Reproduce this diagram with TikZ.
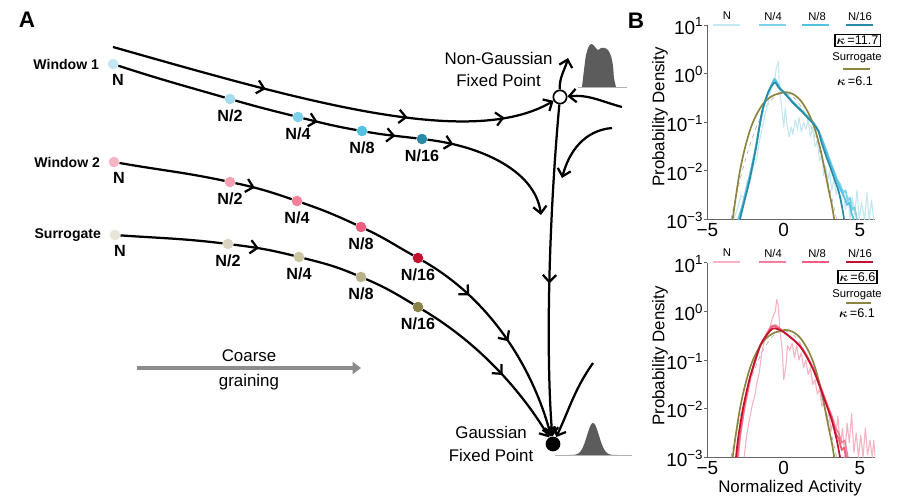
\documentclass[tikz,border=0pt]{standalone}
\usepackage{amsmath}
\usepackage{fontspec}
\setmainfont{Liberation Sans}
\usepackage{tikz}
\usetikzlibrary{positioning, arrows.meta, decorations.markings}

\definecolor{bluN}{HTML}{C4E8F3}
\definecolor{bluNii}{HTML}{A5DCEF}
\definecolor{bluNiv}{HTML}{7FD0EA}
\definecolor{bluNviii}{HTML}{52C1E2}
\definecolor{bluNxvi}{HTML}{2A8AA6}
\definecolor{rosN}{HTML}{F7B5C4}
\definecolor{rosNii}{HTML}{F7A0B4}
\definecolor{rosNiv}{HTML}{F57E9A}
\definecolor{rosNviii}{HTML}{F25C7D}
\definecolor{rosNxvi}{HTML}{C4102F}
\definecolor{surN}{HTML}{E8E5D8}
\definecolor{surNii}{HTML}{D9D5C1}
\definecolor{surNiv}{HTML}{CBC5A4}
\definecolor{surNviii}{HTML}{B8B18A}
\definecolor{surNxvi}{HTML}{8A8246}
\definecolor{surrogatecurve}{HTML}{8C8540}
\definecolor{histfill}{HTML}{5C5C5C}
\definecolor{coarsegray}{HTML}{8C8C8C}

\begin{document}
\begin{tikzpicture}[x=0.025cm, y=-0.025cm,
        dot/.style={circle, inner sep=0pt, minimum size=7.5pt, fill=#1},
        gfpdot/.style={circle, inner sep=0pt, minimum size=10.5pt, fill=black},
        ngfpdot/.style={circle, inner sep=0pt, minimum size=9.5pt, draw=black, line width=1.2pt, fill=white},
        sizelabel/.style={font=\fontsize{11.5}{13}\selectfont\bfseries, inner sep=2pt},
        winlabel/.style={font=\fontsize{10}{12}\selectfont\bfseries},
        panellabel/.style={font=\fontsize{16}{18}\selectfont\bfseries},
        fplabel/.style={font=\fontsize{12}{15.8}\selectfont, align=center, text=black},
        flow/.style={line width=1.6pt},
        flowend/.style={flow, -{Straight Barb[length=5pt, width=9.5pt]}},
        midarrow/.style={postaction={decorate, decoration={markings, mark=at position #1 with {\arrow{Straight Barb[length=5pt, width=9.5pt]}}}}},
        coarse/.style={line width=2.5pt, coarsegray, -{Triangle[length=6pt, width=8.5pt]}},
        histbase/.style={line width=0.6pt, gray!60},
        axisline/.style={line width=0.6pt, gray!80!black},
        ytick/.style={font=\fontsize{13.5}{15}\selectfont, anchor=base east, inner sep=0pt, xshift=-2.8pt, yshift=-6.6pt},
        xtick/.style={font=\fontsize{13.5}{15}\selectfont, anchor=north, inner sep=2pt, yshift=-0.5pt},
        axlabel/.style={font=\fontsize{12}{14}\selectfont},
        legtext/.style={font=\fontsize{8}{9}\selectfont, inner sep=1pt},
        legline/.style={line width=2pt},
        kbox/.style={draw=black, line width=0.9pt, inner sep=1.2pt, font=\fontsize{9}{10}\selectfont},
        ktext/.style={font=\fontsize{9}{10}\selectfont, inner sep=1pt},
        curve/.style={line width=1.2pt, line join=round},
        noisy/.style={line width=0.8pt, line join=round},
        refgauss/.style={line width=0.5pt, gray!60, dashed},
]
        \useasboundingbox (0,0) rectangle (897,500);

        % panel A
        \node[panellabel] (pana) at (27,20) {A};
        \node[panellabel] (panb) at (636,21) {B};

        \node[dot=bluN] (w1n) at (113,64) {};
        \node[dot=bluNii] (w1n2) at (230,99) {};
        \node[dot=bluNiv] (w1n4) at (298,117) {};
        \node[dot=bluNviii] (w1n8) at (362,131) {};
        \node[dot=bluNxvi] (w1n16) at (422,139) {};
        \node[winlabel, left=2.5pt of w1n] (w1lab) {Window 1};
        \node[sizelabel, below=1.3pt of w1n, xshift=3.5pt] (w1nlab) {N};
        \node[sizelabel, below=1.3pt of w1n2] (w1n2lab) {N/2};
        \node[sizelabel, below=1.3pt of w1n4] (w1n4lab) {N/4};
        \node[sizelabel, below=1.3pt of w1n8] (w1n8lab) {N/8};
        \node[sizelabel, below=1.3pt of w1n16] (w1n16lab) {N/16};

        \node[dot=rosN] (w2n) at (114,162) {};
        \node[dot=rosNii] (w2n2) at (230,182) {};
        \node[dot=rosNiv] (w2n4) at (297,201) {};
        \node[dot=rosNviii] (w2n8) at (361,227) {};
        \node[dot=rosNxvi] (w2n16) at (418,258) {};
        \node[winlabel, left=2.5pt of w2n] (w2lab) {Window 2};
        \node[sizelabel, below=1.3pt of w2n, xshift=3.5pt] (w2nlab) {N};
        \node[sizelabel, below=1.3pt of w2n2] (w2n2lab) {N/2};
        \node[sizelabel, below=1.3pt of w2n4] (w2n4lab) {N/4};
        \node[sizelabel, below=1.3pt of w2n8] (w2n8lab) {N/8};
        \node[sizelabel, below=1.3pt of w2n16] (w2n16lab) {N/16};

        \node[dot=surN] (sn) at (115,235) {};
        \node[dot=surNii] (sn2) at (228,244) {};
        \node[dot=surNiv] (sn4) at (299,257) {};
        \node[dot=surNviii] (sn8) at (361,277) {};
        \node[dot=surNxvi] (sn16) at (418,307) {};
        \node[winlabel, left=2.5pt of sn] (slab) {Surrogate};
        \node[sizelabel, below=1.3pt of sn, xshift=3.5pt] (snlab) {N};
        \node[sizelabel, below=1.3pt of sn2] (sn2lab) {N/2};
        \node[sizelabel, below=1.3pt of sn4] (sn4lab) {N/4};
        \node[sizelabel, below=1.3pt of sn8] (sn8lab) {N/8};
        \node[sizelabel, below=1.3pt of sn16] (sn16lab) {N/16};

        \node[ngfpdot] (ngfp) at (560,97) {};
        \node[gfpdot] (gfp) at (553,444) {};
        \node[fplabel, above left=0pt and -2pt of ngfp] (ngfplab) {Non-Gaussian\\Fixed Point};
        \node[fplabel, left=5pt of gfp] (gfplab) {Gaussian\\Fixed Point};

        \coordinate (w1top) at (113,47);
        \coordinate (w1end) at (541,215);
        \coordinate (rin) at (622,107);
        \coordinate (rcurve) at (612,128);
        \coordinate (rcurveend) at (562,178);
        \coordinate (upend) at (568,58);
        \coordinate (rgin) at (593,363);

        \draw[flowend, midarrow=0.35, midarrow=0.67, midarrow=0.885] (w1top) .. controls (300,100) and (470,150) .. (ngfp);
        \draw[flow] (w1n) to[out=-18, in=164] (w1n2);
        \draw[flow] (w1n2) to[out=-16, in=166] (w1n4);
        \draw[flow, midarrow=0.27] (w1n4) to[out=-14, in=170] (w1n8);
        \draw[flow, midarrow=0.57] (w1n8) to[out=-10, in=173] (w1n16);
        \draw[flowend, midarrow=0.18] (w1n16) .. controls (480,146) and (535,170) .. (w1end);

        \draw[flow] (w2n) to[out=-10, in=168] (w2n2);
        \draw[flow, midarrow=0.34] (w2n2) to[out=-12, in=161] (w2n4);
        \draw[flow] (w2n4) to[out=-19, in=155] (w2n8);
        \draw[flow] (w2n8) to[out=-25, in=151] (w2n16);
        \draw[flowend, midarrow=0.26, midarrow=0.53] (w2n16) .. controls (500,305) and (537,382) .. (gfp);

        \draw[flow] (sn) to[out=-4, in=173] (sn2);
        \draw[flow, midarrow=0.42] (sn2) to[out=-7, in=166] (sn4);
        \draw[flow] (sn4) to[out=-14, in=157] (sn8);
        \draw[flow] (sn8) to[out=-23, in=149] (sn16);
        \draw[flowend, midarrow=0.57] (sn16) .. controls (490,350) and (530,405) .. (gfp);

        \draw[flowend, midarrow=0.54] (ngfp) .. controls (548,230) and (546,360) .. (gfp);
        \draw[flowend] (rin) to[out=165, in=5] (ngfp);
        \draw[flowend] (rcurve) to[out=185, in=75] (rcurveend);
        \draw[flowend] (ngfp) to[out=92, in=255] (upend);
        \draw[flowend] (rgin) to[out=235, in=65] (gfp);

        % distributions at the fixed points
        \fill[histfill] plot[smooth] coordinates {(582,87) (584,70) (586,55) (589,46) (592,44) (595,47) (598,50) (601,48) (605,48) (608,50) (611,56) (613,66) (614,78) (616,87)} -- cycle;
        \draw[histbase] (578,87) -- (627,87);
        \fill[histfill] plot[domain=-24:24, samples=60] ({593+\x}, {455-32*exp(-\x*\x/72)}) -- cycle;
        \draw[histbase] (555,455) -- (632,455);

        \coordinate (cgstart) at (137,368);
        \coordinate (cgend) at (361,368);
        \draw[coarse] (cgstart) -- node[fplabel, above=0pt] (cgtop) {Coarse} node[fplabel, below=0pt] (cgbot) {graining} (cgend);

        % panel B, window 1
        \node[axlabel, rotate=90] (ylaba) at (660,117) {Probability Density};
        \begin{scope}[shift={(783.75,219.5)}, x=0.38125cm, y=1.215cm]
                \draw[axisline] (-5,4) -- (-5,0) -- (6,0);
                \draw[axisline] (-5,0) -- ++(-2.5pt,0) (-5,1) -- ++(-2.5pt,0) (-5,2) -- ++(-2.5pt,0) (-5,3) -- ++(-2.5pt,0) (-5,4) -- ++(-2.5pt,0);
                \node[ytick] (tya4) at (-5,4) {10\textsuperscript{1}};
                \node[ytick] (tya3) at (-5,3) {10\textsuperscript{0}};
                \node[ytick] (tya2) at (-5,2) {10\textsuperscript{−1}};
                \node[ytick] (tya1) at (-5,1) {10\textsuperscript{−2}};
                \node[ytick] (tya0) at (-5,0) {10\textsuperscript{−3}};
                \node[xtick] (txa1) at (-5,0) {−5};
                \node[xtick] (txa2) at (0,0) {0};
                \node[xtick] (txa3) at (5,0) {5};
                \begin{scope}
                        \clip (-5,0) rectangle (6,4.2);
                        \draw[refgauss] plot[domain=-3.46:3.46, samples=50] (\x, {2.601-0.2171*\x*\x});
                        \draw[noisy, bluN] plot coordinates {(-3.3,0) (-3.0,0.25) (-2.8,0.5) (-2.6,0.45) (-2.4,0.8) (-2.2,0.75) (-2.0,1.1) (-1.8,1.2) (-1.6,1.6) (-1.4,1.9) (-1.2,2.2) (-1.0,2.45) (-0.8,2.7) (-0.6,2.85) (-0.5,3.1) (-0.4,3.2) (-0.35,3.26) (-0.3,2.8) (-0.2,2.5) (-0.1,2.2) (0.0,1.9) (0.1,2.3) (0.2,2.0) (0.35,1.7) (0.5,1.9) (0.6,1.75) (0.75,2.05) (0.9,1.85) (1.0,2.1) (1.15,1.8) (1.3,2.0) (1.45,1.85) (1.6,2.05) (1.75,1.7) (1.9,1.9) (2.05,1.5) (2.2,1.6) (2.35,1.2) (2.5,1.35) (2.6,0.9) (2.75,1.1) (2.9,0.8) (3.0,1.0) (3.15,0.6) (3.3,0.85) (3.45,0.5) (3.6,0.75) (3.75,0.3) (3.9,0.6) (4.05,0.2) (4.2,0.5) (4.35,0.0) (4.5,0.45) (4.65,0.1) (4.8,0.6) (4.95,0.0) (5.1,0.35) (5.3,0.0) (5.45,0.55) (5.6,0.0) (5.75,0.4) (5.9,0.0)};
                        \draw[curve, bluNiv] plot coordinates {(-3.0,0) (-2.7,0.3) (-2.4,0.68) (-2.1,1.08) (-1.85,1.45) (-1.6,1.9) (-1.35,2.3) (-1.05,2.6) (-0.8,2.78) (-0.62,2.9) (-0.5,2.86) (-0.25,2.7) (0.1,2.58) (0.6,2.4) (1.1,2.25) (1.6,2.12) (2.0,1.98) (2.3,1.82) (2.55,1.62) (2.8,1.42) (3.05,1.2) (3.3,1.0) (3.5,0.82) (3.7,0.72) (3.9,0.55) (4.05,0.6) (4.2,0.38) (4.35,0.45) (4.5,0.2) (4.65,0.25) (4.8,0.0)};
                        \draw[curve, bluNviii] plot coordinates {(-2.95,0) (-2.65,0.35) (-2.35,0.72) (-2.05,1.15) (-1.8,1.55) (-1.55,2.0) (-1.3,2.35) (-1.0,2.62) (-0.75,2.8) (-0.6,2.88) (-0.45,2.82) (-0.2,2.68) (0.1,2.6) (0.6,2.42) (1.1,2.27) (1.6,2.1) (2.0,1.95) (2.3,1.8) (2.55,1.6) (2.8,1.38) (3.05,1.15) (3.3,0.95) (3.55,0.75) (3.75,0.6) (3.95,0.48) (4.15,0.3) (4.3,0.35) (4.45,0.12) (4.6,0)};
                        \draw[curve, surrogatecurve] plot[smooth] coordinates {(-3.35,0) (-3.15,0.45) (-2.9,0.95) (-2.6,1.4) (-2.2,1.85) (-1.8,2.15) (-1.3,2.4) (-0.7,2.55) (0.08,2.62) (0.6,2.58) (1.1,2.45) (1.6,2.2) (2.0,1.9) (2.4,1.45) (2.7,1.0) (2.95,0.6) (3.15,0.3) (3.31,0)};
                        \draw[curve, bluNxvi] plot[smooth] coordinates {(-2.87,0) (-2.6,0.35) (-2.32,0.7) (-2.05,1.1) (-1.8,1.5) (-1.6,1.9) (-1.4,2.25) (-1.1,2.55) (-0.85,2.72) (-0.57,2.82) (-0.35,2.72) (0.04,2.6) (0.6,2.4) (1.1,2.25) (1.6,2.08) (2.0,1.95) (2.27,1.82) (2.49,1.57) (2.75,1.33) (3.03,1.09) (3.3,0.85) (3.58,0.6) (3.8,0.3) (3.96,0)};
                \end{scope}
        \end{scope}
        \node[legtext] (lgan) at (727,16) {N};
        \node[legtext] (lgan4) at (773,16) {N/4};
        \node[legtext] (lgan8) at (817,16) {N/8};
        \node[legtext] (lgan16) at (860,16) {N/16};
        \draw[legline, bluN] (713,25) -- (740,25);
        \draw[legline, bluNiv] (759,25) -- (786,25);
        \draw[legline, bluNviii] (802,25) -- (829,25);
        \draw[legline, bluNxvi] (846,25) -- (873,25);
        \node[kbox] (kapa) at (857.5,40.5) {$\boldsymbol{\kappa}$\,=11.7};
        \node[legtext] (surla) at (857,58) {Surrogate};
        \draw[legline, surrogatecurve] (843,69) -- (870,69);
        \node[ktext] (ksa) at (855,81) {$\boldsymbol{\kappa}$\,=6.1};

        % panel B, window 2
        \node[axlabel, rotate=90] (ylabb) at (660,356) {Probability Density};
        \node[axlabel] (xlab) at (790,488) {Normalized Activity};
        \begin{scope}[shift={(783.75,457.3)}, x=0.38125cm, y=1.215cm]
                \draw[axisline] (-5,4) -- (-5,0) -- (6,0);
                \draw[axisline] (-5,0) -- ++(-2.5pt,0) (-5,1) -- ++(-2.5pt,0) (-5,2) -- ++(-2.5pt,0) (-5,3) -- ++(-2.5pt,0) (-5,4) -- ++(-2.5pt,0);
                \node[ytick] (tyb4) at (-5,4) {10\textsuperscript{1}};
                \node[ytick] (tyb3) at (-5,3) {10\textsuperscript{0}};
                \node[ytick] (tyb2) at (-5,2) {10\textsuperscript{−1}};
                \node[ytick] (tyb1) at (-5,1) {10\textsuperscript{−2}};
                \node[ytick] (tyb0) at (-5,0) {10\textsuperscript{−3}};
                \node[xtick] (txb1) at (-5,0) {−5};
                \node[xtick] (txb2) at (0,0) {0};
                \node[xtick] (txb3) at (5,0) {5};
                \begin{scope}
                        \clip (-5,0) rectangle (6,4.2);
                        \draw[refgauss] plot[domain=-3.46:3.46, samples=50] (\x, {2.601-0.2171*\x*\x});
                        \draw[noisy, rosN] plot coordinates {(-2.6,0) (-2.45,0.4) (-2.3,0.7) (-2.2,0.85) (-2.05,1.1) (-1.9,1.25) (-1.77,1.52) (-1.6,1.75) (-1.45,2.14) (-1.3,2.35) (-1.1,2.55) (-0.9,2.69) (-0.7,2.9) (-0.55,3.0) (-0.46,3.25) (-0.35,3.1) (-0.25,2.6) (-0.1,2.2) (0,1.6) (0.15,1.9) (0.25,2.3) (0.4,2.2) (0.55,2.35) (0.7,2.05) (0.85,2.3) (1.0,2.0) (1.15,2.15) (1.3,1.85) (1.45,2.0) (1.6,1.7) (1.75,1.85) (1.9,1.5) (2.05,1.6) (2.2,1.3) (2.35,1.4) (2.5,1.05) (2.65,1.15) (2.8,0.8) (2.95,0.9) (3.1,0.55) (3.25,0.75) (3.4,0.4) (3.55,0.85) (3.7,0.2) (3.85,0.6) (4.0,0.0) (4.15,0.7) (4.3,0.3) (4.45,0.9) (4.6,0.1) (4.75,0.5) (4.9,0.0) (5.05,0.45) (5.2,0.0) (5.35,0.6) (5.5,0.05) (5.65,0.35) (5.8,0.0) (5.9,0.35) (6,0)};
                        \draw[curve, rosNiv] plot coordinates {(-3.0,0) (-2.85,0.45) (-2.55,1.05) (-2.15,1.68) (-1.55,2.3) (-1.05,2.57) (-0.8,2.7) (-0.55,2.72) (-0.25,2.65) (0,2.58) (0.5,2.46) (1.07,2.3) (1.5,2.1) (1.94,1.83) (2.3,1.55) (2.6,1.3) (2.9,1.05) (3.15,0.85) (3.4,0.6) (3.6,0.5) (3.8,0.3) (4.0,0.35) (4.2,0)};
                        \draw[curve, rosNviii] plot coordinates {(-3.05,0) (-2.9,0.45) (-2.6,1.05) (-2.2,1.65) (-1.6,2.27) (-1.1,2.55) (-0.8,2.68) (-0.6,2.7) (-0.3,2.64) (0,2.58) (0.5,2.45) (1.07,2.3) (1.5,2.08) (1.94,1.82) (2.3,1.5) (2.6,1.28) (2.9,1.0) (3.15,0.82) (3.4,0.5) (3.6,0.38) (3.8,0.15) (3.95,0.2) (4.1,0)};
                        \draw[curve, surrogatecurve] plot[smooth] coordinates {(-3.35,0) (-3.15,0.45) (-2.9,0.95) (-2.6,1.4) (-2.2,1.85) (-1.8,2.15) (-1.3,2.4) (-0.7,2.55) (0.08,2.62) (0.6,2.58) (1.1,2.45) (1.6,2.2) (2.0,1.9) (2.4,1.45) (2.7,1.0) (2.95,0.6) (3.15,0.3) (3.31,0)};
                        \draw[curve, rosNxvi] plot[smooth] coordinates {(-3.13,0) (-2.98,0.42) (-2.65,1.04) (-2.2,1.66) (-1.56,2.28) (-1.1,2.52) (-0.68,2.65) (-0.03,2.58) (1.07,2.28) (1.94,1.8) (2.6,1.25) (3.14,0.77) (3.47,0.36) (3.69,0)};
                \end{scope}
        \end{scope}
        \node[legtext] (lgbn) at (727,253) {N};
        \node[legtext] (lgbn4) at (773,253) {N/4};
        \node[legtext] (lgbn8) at (817,253) {N/8};
        \node[legtext] (lgbn16) at (860,253) {N/16};
        \draw[legline, rosN] (713,262) -- (740,262);
        \draw[legline, rosNiv] (759,262) -- (786,262);
        \draw[legline, rosNviii] (802,262) -- (829,262);
        \draw[legline, rosNxvi] (846,262) -- (873,262);
        \node[kbox] (kapb) at (857.5,277) {$\boldsymbol{\kappa}$\,=6.6};
        \node[legtext] (surlb) at (857,295) {Surrogate};
        \draw[legline, surrogatecurve] (846,303) -- (871,303);
        \node[ktext] (ksb) at (857,313) {$\boldsymbol{\kappa}$\,=6.1};
\end{tikzpicture}
\end{document}
